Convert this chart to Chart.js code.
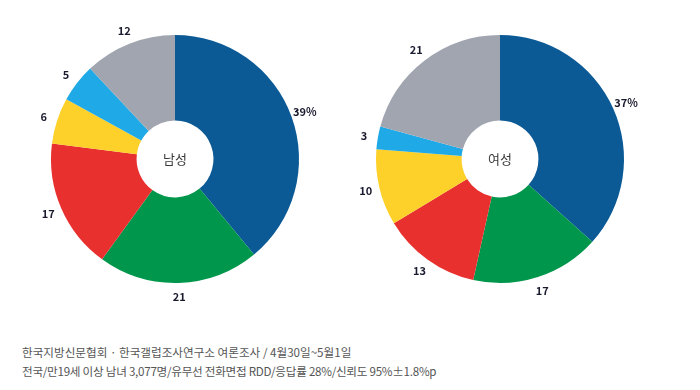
<!DOCTYPE html>
<html><head><meta charset="utf-8">
<script src="https://cdn.jsdelivr.net/npm/chart.js@4/dist/chart.umd.min.js"></script>
<style>
html,body{margin:0;padding:0;background:#fff;width:700px;height:390px;overflow:hidden;font-family:"Noto Sans CJK KR","Noto Sans",sans-serif;}
.c{position:absolute;width:300px;height:300px;}
#note{position:absolute;left:22px;top:343px;font-size:11.6px;line-height:19px;color:#555;letter-spacing:0;}
#note span{letter-spacing:-0.26px;}
</style></head><body>
<div class="c" style="left:25px;top:9px"><canvas id="m" width="300" height="300"></canvas></div>
<div class="c" style="left:350px;top:9px"><canvas id="f" width="300" height="300"></canvas></div>
<div id="note">한국지방신문협회 · 한국갤럽조사연구소 여론조사 / 4월30일~5월1일<br><span>전국/만19세 이상 남녀 3,077명/유무선 전화면접 RDD/응답률 28%/신뢰도 95%±1.8%p</span></div>
<script>
const categories = ['A','B','C','D','E','F'];
const maleValues = [39, 21, 17, 6, 5, 12];
const femaleValues = [37, 17, 13, 10, 3, 21];
const maleLabels = ['39%','21','17','6','5','12'];
const femaleLabels = ['37%','17','13','10','3','21'];
const colors = ['#0b5a96','#00964b','#e8302f','#fdd02a','#1fa9e6','#a0a5b0'];

const labelPlugin = {
  id:'lbl',
  afterDatasetsDraw(chart, args, opts){
    const ctx = chart.ctx;
    const meta = chart.getDatasetMeta(0);
    ctx.save();
    ctx.font = '600 11px "Noto Sans CJK KR", "Noto Sans", sans-serif';
    ctx.fillStyle = '#1a1a2e';
    ctx.textAlign = 'center';
    ctx.textBaseline = 'middle';
    meta.data.forEach((arc, i) => {
      const mid = (arc.startAngle + arc.endAngle) / 2;
      const r = arc.outerRadius + 14;
      ctx.fillText(opts.texts[i], arc.x + Math.cos(mid) * r, arc.y + Math.sin(mid) * r);
    });
    const a = meta.data[0];
    ctx.font = '13px "Noto Sans CJK KR", sans-serif';
    ctx.fillStyle = '#3a3a3a';
    ctx.fillText(opts.center, a.x, a.y);
    ctx.restore();
  }
};

function make(id, values, texts, center){
  new Chart(document.getElementById(id), {
    type:'doughnut',
    data:{labels:categories, datasets:[{data:values, backgroundColor:colors, borderWidth:0}]},
    options:{
      responsive:false, animation:false, cutout:'31%',
      layout:{padding:26},
      plugins:{legend:{display:false}, tooltip:{enabled:false}, lbl:{texts:texts, center:center}}
    },
    plugins:[labelPlugin]
  });
}
make('m', maleValues, maleLabels, '남성');
make('f', femaleValues, femaleLabels, '여성');
</script>
</body></html>
